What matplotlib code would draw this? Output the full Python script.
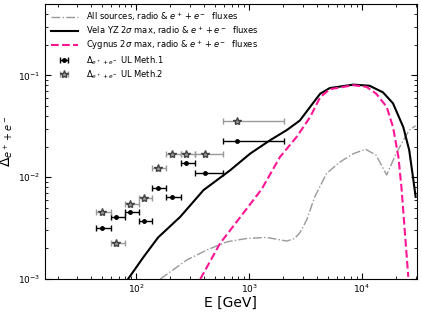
import matplotlib
matplotlib.use('Agg')
import matplotlib.pyplot as plt
import numpy as np

# energy bins of the upper limits (GeV)
e_lo = [44, 59, 79, 105, 139, 185, 247, 328, 581]
e_hi = [59, 79, 105, 139, 185, 247, 328, 581, 2050]
e_c = [50, 66.6, 88.5, 117.7, 156, 208, 277, 408, 782]
ul_meth1 = [3.2e-3, 4.06e-3, 4.5e-3, 3.7e-3, 7.8e-3, 6.4e-3, 1.38e-2, 1.1e-2, 2.27e-2]
ul_meth2 = [4.5e-3, 2.24e-3, 5.5e-3, 6.3e-3, 1.24e-2, 1.67e-2, 1.67e-2, 1.67e-2, 3.6e-2]

# Vela YZ
vela_E = [84.4, 116, 156, 245, 394, 680, 1020, 1530, 2160, 2820, 3480, 4270,
          5200, 8400, 11700, 15400, 18900, 23300, 26300, 28400, 30000]
vela_D = [1e-3, 1.65e-3, 2.56e-3, 4.08e-3, 7.46e-3, 1.17e-2, 1.7e-2, 2.3e-2,
          2.9e-2, 3.6e-2, 4.9e-2, 6.6e-2, 7.5e-2, 8.1e-2, 7.9e-2, 6.8e-2,
          5.3e-2, 3.1e-2, 1.84e-2, 1.0e-2, 6.4e-3]
# Cygnus
cyg_E = [369, 553, 1090, 1290, 1880, 2650, 3480, 4270, 5200, 8400, 11000,
         13400, 16600, 18900, 21100, 22500, 24000, 25800]
cyg_D = [1e-3, 2.24e-3, 5.95e-3, 7.6e-3, 1.58e-2, 2.5e-2, 3.9e-2, 6.1e-2,
         7.3e-2, 8.0e-2, 7.7e-2, 6.6e-2, 4.9e-2, 3.1e-2, 1.58e-2, 7.7e-3,
         3.0e-3, 1.05e-3]
# all sources
all_E = [163, 281, 423, 635, 950, 1430, 2160, 2540, 2820, 3240, 3820, 4870,
         6400, 8400, 10800, 13400, 16600, 20100, 24700, 26300, 30000]
all_D = [1e-3, 1.54e-3, 1.93e-3, 2.32e-3, 2.5e-3, 2.56e-3, 2.36e-3, 2.5e-3,
         2.85e-3, 3.8e-3, 6.4e-3, 1.09e-2, 1.41e-2, 1.7e-2, 1.88e-2, 1.64e-2,
         1.05e-2, 1.7e-2, 2.58e-2, 2.89e-2, 3.2e-2]

plt.rcParams['font.size'] = 6
fig = plt.figure(figsize=(4.21, 3.16), dpi=100)
ax = fig.add_axes([0.107, 0.117, 0.883, 0.870])

e_c = np.array(e_c)
xerr = [e_c - np.array(e_lo), np.array(e_hi) - e_c]

ax.plot(all_E, all_D, '-.', color='#999999', lw=1.0,
        label=r'All sources, radio & $e^+ + e^-$  fluxes')
ax.plot(vela_E, vela_D, '-', color='k', lw=1.5,
        label=r'Vela YZ 2$\sigma$ max, radio & $e^+ + e^-$  fluxes')
ax.plot(cyg_E, cyg_D, '--', color='#ff1493', lw=1.5,
        label=r'Cygnus 2$\sigma$ max, radio & $e^+ + e^-$  fluxes')
ax.errorbar(e_c, ul_meth1, xerr=xerr, fmt='o', color='k', ms=2.5, lw=1,
            capsize=2, label=r'$\Delta_{e^+ + e^-}$ UL Meth.1')
ax.errorbar(e_c, ul_meth2, xerr=xerr, fmt='*', color='#999999', mfc='#999999',
            mec='#444444', ms=6, lw=1, capsize=2,
            label=r'$\Delta_{e^+ + e^-}$ UL Meth.2')

ax.set_xscale('log')
ax.set_yscale('log')
ax.set_xlim(15.5, 3.07e4)
ax.set_ylim(1e-3, 0.5)
ax.tick_params(which='both', direction='in', top=True, right=True,
               labelsize=6.5)
ax.tick_params(axis='x', pad=2.5)
ax.tick_params(which='major', length=4)
ax.tick_params(which='minor', length=2)
ax.set_xlabel('E [GeV]', fontsize=10, labelpad=1)
ax.set_ylabel(r'$\Delta_{e^+ + e^-}$', fontsize=10, labelpad=2)
ax.legend(loc='upper left', frameon=False, fontsize=6, handlelength=3.2,
          handletextpad=1.0, labelspacing=0.2, borderaxespad=0.3)

plt.savefig('out.png', dpi=100)
